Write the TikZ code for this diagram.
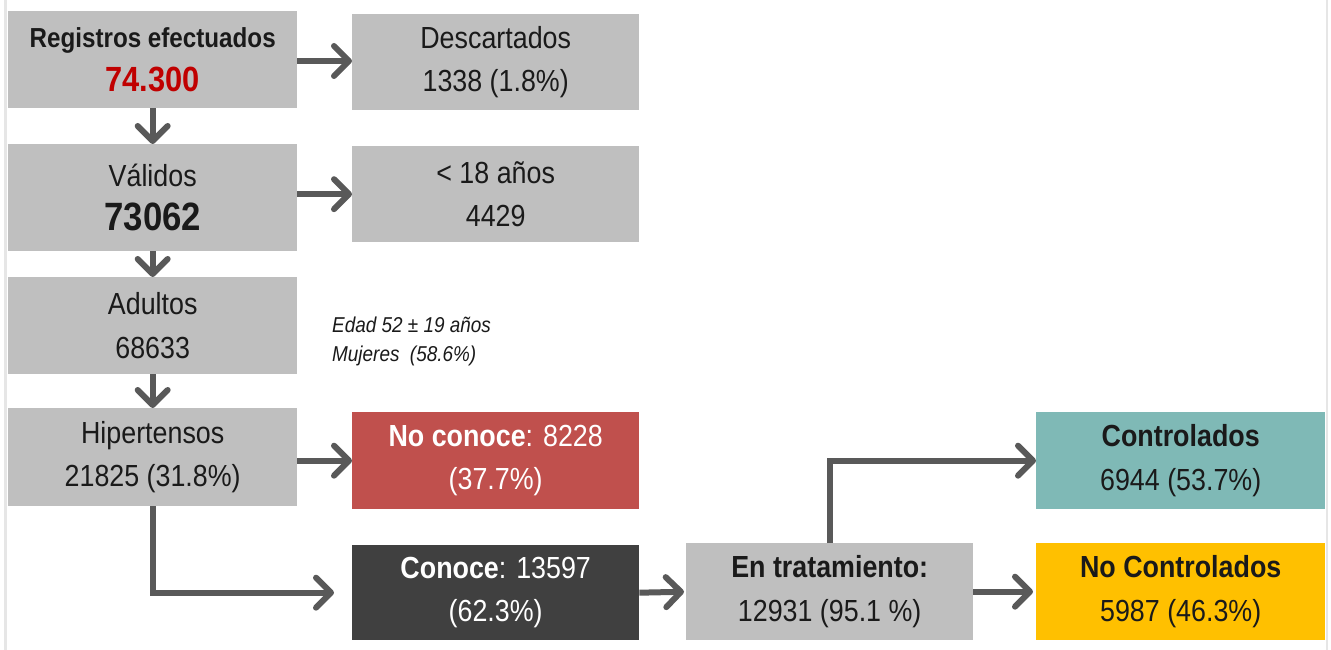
\documentclass[tikz,border=0pt]{standalone}
\usepackage{fontspec}
\setmainfont[FakeStretch=0.88]{Liberation Sans}
\usetikzlibrary{arrows.meta,positioning}
\definecolor{boxgray}{HTML}{BFBFBF}
\definecolor{arrgray}{HTML}{595959}
\definecolor{txt}{HTML}{1A1A1A}
\definecolor{nored}{HTML}{C0504D}
\definecolor{dark}{HTML}{404040}
\definecolor{teal}{HTML}{7FB9B6}
\definecolor{yel}{HTML}{FFC000}
\definecolor{numred}{HTML}{C00000}
\definecolor{edge}{HTML}{E6E6E6}
\tikzset{
  box/.style={fill=boxgray, draw=none, anchor=north west, inner sep=0pt,
    minimum width=287pt, align=center, text=txt,
    font=\fontsize{30.5}{43.5}\selectfont},
  flow/.style={draw=arrgray, line width=6pt,
    -{Straight Barb[length=15pt,width=30pt,round]}},
  note/.style={anchor=west, inner sep=0pt, align=left, text=txt,
    font=\fontsize{21.5}{29}\selectfont\itshape}
}
\begin{document}
\begin{tikzpicture}[x=1pt,y=-1pt]
\useasboundingbox[fill=white] (0,0) rectangle (1331,650);
\draw[edge, line width=3pt] (5,0) -- (5,650);
\draw[edge, line width=2pt] (1327,0) -- (1327,650);

\node[box, minimum width=289pt, minimum height=97pt] (reg) at (8,11)
  {\fontsize{27.5}{40}\selectfont\bfseries Registros efectuados\\
   \fontsize{35}{40}\selectfont\bfseries\color{numred}74.300};
\node[box, minimum height=96pt] (desc) at (352,14) {Descartados\\1338 (1.8\%)};
\node[box, minimum width=289pt, minimum height=107pt] (val) at (8,144)
  {Válidos\\[1pt]\fontsize{39.5}{42}\selectfont\bfseries 73062};
\node[box, minimum height=96pt] (men) at (352,146) {< 18 años\\4429};
\node[box, minimum width=289pt, minimum height=97pt] (adu) at (8,277) {Adultos\\68633};
\node[box, minimum width=289pt, minimum height=98pt] (hip) at (8,408) {Hipertensos\\21825 (31.8\%)};
\node[box, fill=nored, text=white, minimum height=97pt] (noc) at (352,412)
  {\textbf{No conoce}: 8228\\(37.7\%)};
\node[box, fill=dark, text=white, minimum height=95pt] (con) at (352,545)
  {\textbf{Conoce}: 13597\\(62.3\%)};
\node[box, minimum height=97pt] (tra) at (686,543)
  {\textbf{En tratamiento:}\\12931 (95.1 \%)};
\node[box, fill=teal, minimum width=289pt, minimum height=97pt] (ctl) at (1036,412)
  {\textbf{Controlados}\\6944 (53.7\%)};
\node[box, fill=yel, minimum width=289pt, minimum height=97pt] (nct) at (1036,543)
  {\textbf{No Controlados}\\5987 (46.3\%)};

\node[note] (edad) at (332,341) {Edad 52 ± 19 años\\Mujeres\ \ (58.6\%)};

\draw[flow] (reg.east |- 0,61) -- (desc.west |- 0,61);
\draw[flow] (reg.south) -- (val.north);
\draw[flow] (val.east |- men.west) -- (men.west);
\draw[flow] (val.south) -- (adu.north);
\draw[flow] (adu.south) -- (hip.north);
\draw[flow] (hip.east |- noc.west) -- (noc.west);
\draw[flow, shorten >=18pt] (hip.south) |- (con.west);
\draw[flow, shorten >=2pt] (con.east) -- (tra.west);
\draw[flow] (tra.north) |- (ctl.west);
\draw[flow, shorten >=3pt] (tra.east) -- (nct.west);
\end{tikzpicture}
\end{document}
